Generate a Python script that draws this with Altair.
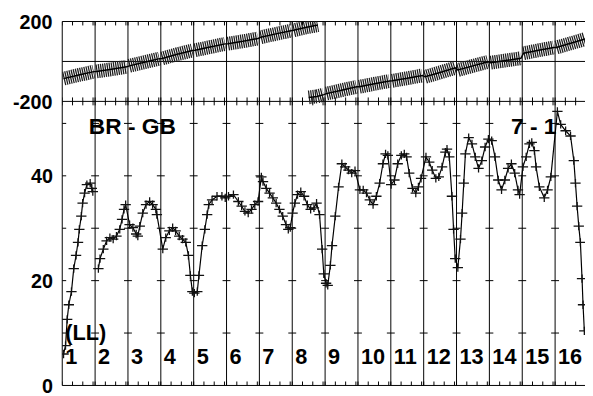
import altair as alt
import pandas as pd

W, H, TOP_H = 530, 369, 81
X_MAX = 15.91
FONT = "Liberation Sans"

# ---------------- data ----------------
channel_names = [str(i) for i in range(1, 17)]
channel_starts = list(range(16))
boundaries = list(range(0, 16))
tick_fracs = [0.0, 0.3125, 0.625, 0.9375]
dash_levels = [10, 20, 30, 40, 50]

# phase (top panel), one list per channel piece
phase_x = [
    [0.04, 0.5, 0.96], [1.04, 1.5, 1.96], [2.04, 2.5, 2.96], [3.04, 3.5, 3.96],
    [4.04, 4.5, 4.96], [5.04, 5.5, 5.96], [6.04, 6.5, 6.96], [7.04, 7.4, 7.78],
    [7.5, 7.75, 7.96], [8.04, 8.5, 8.96], [9.04, 9.5, 9.96], [10.04, 10.5, 10.96],
    [11.04, 11.5, 11.96], [12.04, 12.5, 12.96], [13.04, 13.5, 13.96],
    [14.04, 14.5, 14.96], [15.04, 15.5, 15.91],
]
phase_y = [
    [-86, -68, -51], [-50, -39, -27], [-22, -4, 14], [15, 36, 55],
    [56, 72, 88], [89, 101, 115], [121, 138, 154], [156, 170, 182],
    [-180, -175, -166], [-161, -144, -127], [-127, -112, -98], [-97, -84, -70],
    [-77, -55, -32], [-43, -22, -2], [-6, 5, 16],
    [41, 56, 70], [70, 92, 112],
]
phase_seg = ["a"] * 8 + ["b"] * 9

# amplitude (bottom panel), one list per channel
amp_x = [
    [0.04, 0.10, 0.15, 0.20, 0.28, 0.35, 0.42, 0.48, 0.52, 0.58, 0.62, 0.68, 0.75, 0.85, 0.90, 0.93],
    [1.10, 1.15, 1.25, 1.35, 1.45, 1.55, 1.65, 1.75, 1.82, 1.88, 1.93],
    [2.05, 2.15, 2.25, 2.30, 2.36, 2.45, 2.55, 2.66, 2.75, 2.85, 2.88],
    [3.06, 3.15, 3.26, 3.36, 3.45, 3.56, 3.66, 3.76, 3.84, 3.90, 3.96],
    [4.02, 4.11, 4.16, 4.26, 4.34, 4.41, 4.46, 4.56, 4.71, 4.86, 4.96],
    [5.06, 5.21, 5.36, 5.46, 5.56, 5.66, 5.76, 5.86, 5.96],
    [6.06, 6.11, 6.21, 6.31, 6.41, 6.51, 6.61, 6.71, 6.81, 6.88, 6.94],
    [7.01, 7.08, 7.16, 7.26, 7.36, 7.46, 7.56, 7.66, 7.74, 7.83, 7.91, 7.96],
    [8.03, 8.08, 8.16, 8.21, 8.31, 8.41, 8.51, 8.61, 8.71, 8.81, 8.91],
    [9.06, 9.16, 9.26, 9.36, 9.46, 9.56, 9.66, 9.76, 9.84, 9.91],
    [10.01, 10.11, 10.21, 10.32, 10.41, 10.48, 10.56, 10.66, 10.76, 10.84, 10.92],
    [11.07, 11.17, 11.26, 11.37, 11.46, 11.56, 11.66, 11.71, 11.78, 11.86, 11.91, 11.96],
    [12.04, 12.12, 12.17, 12.22, 12.27, 12.37, 12.47, 12.57, 12.67, 12.77, 12.87, 12.97],
    [13.07, 13.17, 13.27, 13.37, 13.47, 13.57, 13.67, 13.77, 13.87, 13.92],
    [14.02, 14.12, 14.22, 14.29, 14.37, 14.42, 14.52, 14.67, 14.77, 14.87],
    [15.07, 15.17, 15.32, 15.47, 15.57, 15.62, 15.67, 15.72, 15.77, 15.82, 15.85, 15.89],
]
amp_y = [
    [6.0, 7.6, 12.6, 15.4, 17.9, 22.3, 24.8, 27.3, 29.8, 32.3, 34.8, 36.7, 38.3, 38.6, 37.6, 37.0],
    [22.3, 24.2, 26.0, 27.6, 28.2, 27.9, 28.5, 29.8, 31.7, 33.6, 34.5],
    [30.7, 30.1, 28.9, 28.5, 30.4, 32.9, 34.5, 35.1, 34.5, 33.6, 32.6],
    [26.0, 28.2, 29.5, 30.1, 29.5, 28.5, 27.9, 27.3, 24.8, 21.0, 17.9],
    [17.6, 17.9, 21.0, 26.7, 29.8, 32.6, 34.5, 35.4, 36.1, 36.1, 35.8],
    [36.1, 36.4, 35.1, 34.2, 33.2, 32.9, 33.6, 34.5, 35.1],
    [39.8, 38.9, 37.6, 36.7, 35.8, 34.8, 33.6, 32.3, 30.7, 29.8, 30.1],
    [32.9, 34.8, 36.4, 37.0, 36.1, 34.5, 33.6, 33.9, 34.8, 32.6, 26.0, 21.3],
    [19.5, 19.1, 22.9, 26.7, 32.3, 37.9, 42.3, 41.7, 41.1, 40.5, 41.0],
    [37.3, 37.3, 36.7, 35.4, 34.5, 36.1, 38.6, 42.3, 44.2, 43.9],
    [38.3, 39.2, 42.3, 43.9, 44.2, 43.6, 40.5, 37.6, 36.7, 37.9, 39.5],
    [43.6, 42.6, 41.1, 39.5, 39.8, 41.7, 44.5, 45.1, 43.6, 36.1, 29.8, 24.2],
    [22.5, 27.9, 32.9, 38.6, 44.2, 47.3, 46.1, 43.6, 41.4, 42.9, 45.5, 47.0],
    [46.7, 43.6, 39.2, 37.3, 39.2, 41.4, 42.3, 40.5, 37.3, 36.4],
    [41.7, 43.6, 46.1, 46.4, 44.8, 41.7, 37.9, 35.8, 37.3, 39.8],
    [52.3, 49.8, 48.6, 47.6, 42.9, 38.6, 34.2, 30.4, 27.3, 20.4, 15.4, 10.4],
]
amp_seg = [0] + [1] * 15

# text annotations (bottom-panel data coordinates)
note_text = ["(LL)", "BR - GB", "7 - 1"]
note_x = [0.0, 0.72, 13.57]
note_y = [8.7, 47.9, 47.9]
note_size = [22, 23, 23]
label_level = 4.14
top_labels = ["200", "-200"]
top_label_vals = [200, -200]

# ---------------- frames ----------------
ph_rows = []
for i, (xs, ys) in enumerate(zip(phase_x, phase_y)):
    for x, y in zip(xs, ys):
        ph_rows.append({"x": x, "ph": y, "band": i, "seg": phase_seg[i]})
ph_df = pd.DataFrame(ph_rows)

amp_rows = []
for i, (xs, ys) in enumerate(zip(amp_x, amp_y)):
    for x, y in zip(xs, ys):
        amp_rows.append({"x": x, "amp": y, "seg": amp_seg[i]})
amp_df = pd.DataFrame(amp_rows)

vl_df = pd.DataFrame({"x": boundaries})
minor_x = [k + f for k in channel_starts for f in tick_fracs]
top_ticks_df = pd.DataFrame([{"x": x, "v": v} for x in minor_x for v in (200, -200)])
bot_ticks_df = pd.DataFrame({"x": minor_x, "v": [0] * len(minor_x)})
dash_df = pd.DataFrame([{"x": k, "v": v} for k in channel_starts for v in dash_levels])
hl_top_df = pd.DataFrame({"v": [200, 0, -200]})
hl_bot_df = pd.DataFrame({"v": [0]})
chan_df = pd.DataFrame({"x": channel_starts, "v": [label_level] * 16, "t": channel_names})
note_df = pd.DataFrame({"x": note_x, "v": note_y, "t": note_text, "s": note_size})
top_lab_df = pd.DataFrame({"v": top_label_vals, "t": top_labels})

# ---------------- scales ----------------
x_sc = alt.Scale(domain=[0, X_MAX], nice=False, zero=False)
top_sc = alt.Scale(domain=[-200, 200], range=[TOP_H, 0], nice=False, zero=False)
bot_sc = alt.Scale(domain=[0, 54.2], range=[H, TOP_H], nice=False, zero=False)
X = alt.X("x:Q", scale=x_sc, axis=None)
BOT_AXIS = alt.Axis(values=[0, 20, 40], ticks=False, tickSize=0, domain=False, grid=False,
                    labelFont=FONT, labelFontSize=20, labelFontWeight="bold",
                    labelColor="black", labelPadding=10, labelOffset=1, title=None,
                    labelOverlap=False)

def YT(f):
    return alt.Y(f, scale=top_sc, axis=None)

def YB(f):
    return alt.Y(f, scale=bot_sc, axis=BOT_AXIS)

VTICK = "M0,-1V1"
HDASH = "M-1,0H1"
CROSS = "M-1,0H1M0,-0.8V0.8"

# ---------------- top panel ----------------
top = alt.layer(
    alt.Chart(vl_df).mark_rule(color="black", strokeWidth=1).encode(x=X),
    alt.Chart(hl_top_df).mark_rule(color="black", strokeWidth=1).encode(y=YT("v:Q")),
    alt.Chart(top_ticks_df).mark_point(shape=VTICK, size=64, filled=False, color="black",
                                       strokeWidth=1, opacity=1, clip=True).encode(x=X, y=YT("v:Q")),
    alt.Chart(ph_df).mark_line(strokeWidth=14, color="#1e1e1e", strokeCap="butt",
                               strokeDash=[1.3, 0.9], clip=True).encode(
        x=X, y=YT("ph:Q"), detail="band:N"),
    alt.Chart(ph_df).mark_line(strokeWidth=1.5, color="black", clip=True).encode(
        x=X, y=YT("ph:Q"), detail="seg:N"),
    alt.Chart(top_lab_df).mark_text(align="right", baseline="middle", dx=-10, dy=2, font=FONT,
                                    fontSize=20, fontWeight="bold", color="black").encode(
        x=alt.value(0), y=YT("v:Q"), text="t:N"),
)

# ---------------- bottom panel ----------------
bottom = alt.layer(
    alt.Chart(hl_bot_df).mark_rule(color="black", strokeWidth=1).encode(y=YB("v:Q")),
    alt.Chart(bot_ticks_df).mark_point(shape=VTICK, size=64, filled=False, color="black",
                                       strokeWidth=1, opacity=1, clip=True).encode(x=X, y=YB("v:Q")),
    alt.Chart(dash_df).mark_point(shape=HDASH, size=64, filled=False, color="black",
                                  strokeWidth=1, opacity=1, clip=True).encode(x=X, y=YB("v:Q")),
    alt.Chart(chan_df).mark_text(align="left", baseline="alphabetic", dx=3, font=FONT,
                                 fontSize=22, fontWeight="bold", color="black").encode(
        x=X, y=YB("v:Q"), text="t:N"),
    alt.Chart(note_df).mark_text(align="left", baseline="alphabetic", dx=3, font=FONT,
                                 fontWeight="bold", color="black").encode(
        x=X, y=YB("v:Q"), text="t:N", size=alt.Size("s:Q", scale=None, legend=None)),
    alt.Chart(amp_df).mark_line(strokeWidth=1.2, color="black", clip=True).encode(
        x=X, y=YB("amp:Q"), detail="seg:N"),
    alt.Chart(amp_df).mark_point(shape=CROSS, size=110, filled=False, color="#111111",
                                 strokeWidth=1.3, opacity=1, clip=True).encode(x=X, y=YB("amp:Q")),
)

chart = alt.layer(top, bottom).resolve_scale(y="independent").properties(
    width=W, height=H,
    padding={"left": 55, "top": 11, "right": 0, "bottom": 8},
    autosize=alt.AutoSizeParams(type="none"),
).configure_view(stroke=None)

chart.save("out.html", embed_options={"renderer": "svg", "actions": False})
